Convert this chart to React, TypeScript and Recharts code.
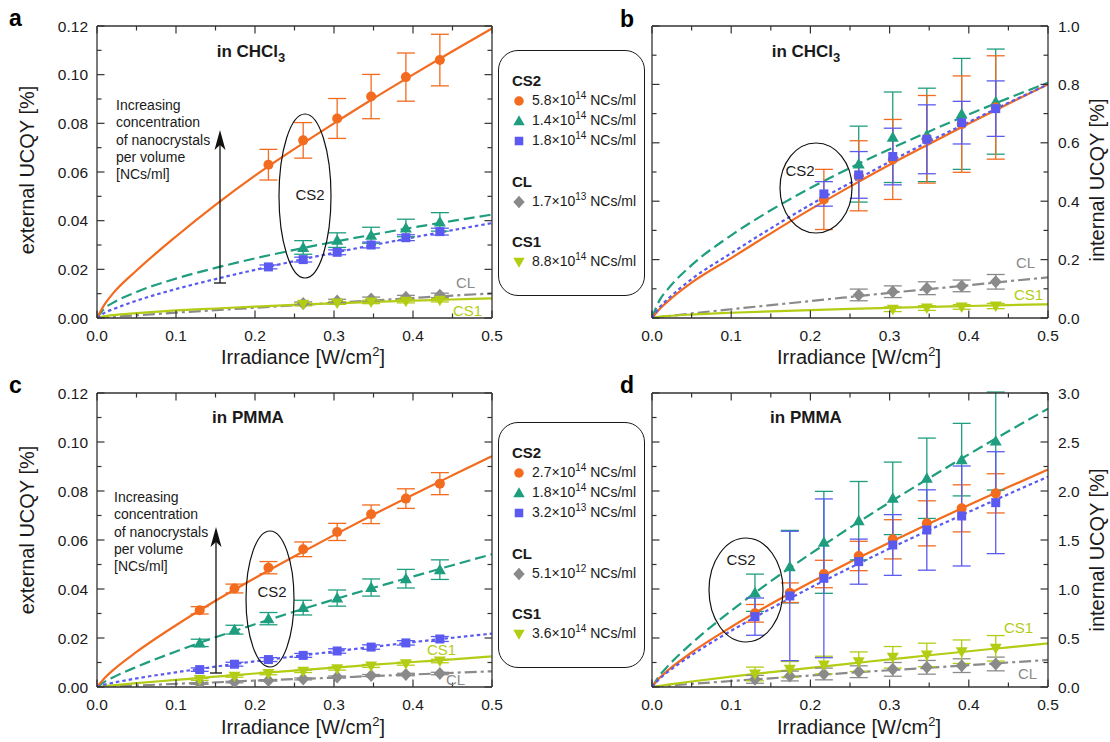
import React from "react";
import { ComposedChart, Line, Scatter, XAxis, YAxis, ErrorBar } from "recharts";

const FONT = "'Liberation Sans', Arial, Helvetica, sans-serif";
const AXIS = "#333333";
const INK = "#1a1a1a";

const ORANGE = "#F26B1F";
const GREEN = "#1F9E7F";
const BLUE = "#5A5AF0";
const GRAY = "#8A8A8A";
const LIME = "#B3CC14";

// irradiance of the measured points [W/cm2] and of the fit curves
const irradiance = [0.13, 0.174, 0.217, 0.261, 0.304, 0.347, 0.391, 0.434];
const fitX = [0, 0.01, 0.02, 0.05, 0.1, 0.15, 0.2, 0.25, 0.3, 0.35, 0.4, 0.45, 0.5];

const xMajor = [0, 0.1, 0.2, 0.3, 0.4, 0.5];
const xMinor = [0.05, 0.15, 0.25, 0.35, 0.45];
const extMajor = [0, 0.02, 0.04, 0.06, 0.08, 0.1, 0.12];
const extMinor = [0.01, 0.03, 0.05, 0.07, 0.09, 0.11];
const intBMajor = [0, 0.2, 0.4, 0.6, 0.8, 1.0];
const intBMinor = [0.1, 0.3, 0.5, 0.7, 0.9];
const intDMajor = [0, 0.5, 1.0, 1.5, 2.0, 2.5, 3.0];
const intDMinor = [0.25, 0.75, 1.25, 1.75, 2.25, 2.75];

// a: external UCQY in CHCl3
const aCs2aFit = [0, 0.0058, 0.01, 0.0195, 0.0335, 0.0465, 0.0585, 0.0695, 0.08, 0.0902, 0.1, 0.1096, 0.119];
const aCs2aY = [0.063, 0.073, 0.082, 0.091, 0.099, 0.106];
const aCs2aErr = [0.0063, 0.0073, 0.0082, 0.0091, 0.0099, 0.0106];
const aCs2bFit = [0, 0.0041, 0.0062, 0.0107, 0.0162, 0.0206, 0.0245, 0.028, 0.0313, 0.0343, 0.0372, 0.0399, 0.0425];
const aCs2bY = [0.029, 0.032, 0.034, 0.037, 0.0395];
const aCs2bErr = [0.0028, 0.003, 0.0033, 0.0036, 0.0038];
const aCs2cFit = [0, 0.0022, 0.0036, 0.0071, 0.0119, 0.016, 0.0198, 0.0234, 0.0268, 0.03, 0.0331, 0.0361, 0.039];
const aCs2cY = [0.021, 0.024, 0.027, 0.03, 0.033, 0.0355];
const aCs2cErr = [0.0008, 0.001, 0.001, 0.0012, 0.0012, 0.0014];
const aClFit = [0, 0.0002, 0.0005, 0.0011, 0.0022, 0.0032, 0.0042, 0.0052, 0.0062, 0.0072, 0.0082, 0.0092, 0.0101];
const aClY = [0.006, 0.007, 0.0078, 0.0085, 0.0093];
const aClErr = [0.0006, 0.0007, 0.0008, 0.0008, 0.0009];
const aCs1Fit = [0, 0.0008, 0.0012, 0.002, 0.0031, 0.0039, 0.0047, 0.0054, 0.006, 0.0066, 0.0071, 0.0076, 0.0081];
const aCs1Y = [0.0056, 0.0062, 0.0066, 0.0069, 0.0073];
const aCs1Err = [0.0006, 0.0006, 0.0007, 0.0007, 0.0007];

// b: internal UCQY in CHCl3
const bCs2aFit = [0, 0.032, 0.057, 0.121, 0.205, 0.29, 0.372, 0.45, 0.525, 0.596, 0.666, 0.734, 0.8];
const bCs2aY = [0.406, 0.487, 0.543, 0.612, 0.664, 0.721];
const bCs2aErr = [0.103, 0.12, 0.137, 0.15, 0.165, 0.177];
const bCs2bFit = [0, 0.063, 0.099, 0.181, 0.283, 0.369, 0.445, 0.514, 0.578, 0.639, 0.697, 0.753, 0.806];
const bCs2bY = [0.527, 0.619, 0.627, 0.699, 0.741];
const bCs2bErr = [0.13, 0.155, 0.16, 0.19, 0.18];
const bCs2cFit = [0, 0.038, 0.065, 0.133, 0.222, 0.307, 0.388, 0.462, 0.535, 0.605, 0.671, 0.737, 0.8];
const bCs2cY = [0.425, 0.49, 0.553, 0.612, 0.669, 0.717];
const bCs2cErr = [0.042, 0.08, 0.097, 0.118, 0.073, 0.095];
const bClFit = [0, 0.0034, 0.0065, 0.0156, 0.03, 0.044, 0.058, 0.072, 0.086, 0.099, 0.112, 0.126, 0.139];
const bClY = [0.079, 0.09, 0.102, 0.11, 0.124];
const bClErr = [0.02, 0.02, 0.022, 0.02, 0.025];
const bCs1Fit = [0, 0.0045, 0.0068, 0.0118, 0.0179, 0.0228, 0.0271, 0.031, 0.0346, 0.038, 0.0411, 0.0441, 0.047];
const bCs1Y = [0.03, 0.034, 0.038, 0.041];
const bCs1Err = [0.008, 0.008, 0.008, 0.009];

// c: external UCQY in PMMA
const cCs2aFit = [0, 0.0038, 0.0068, 0.0143, 0.0252, 0.0352, 0.0445, 0.0534, 0.062, 0.0704, 0.0785, 0.0864, 0.0942];
const cCs2aY = [0.0313, 0.0402, 0.0487, 0.0562, 0.0633, 0.0705, 0.0769, 0.083];
const cCs2aErr = [0.0015, 0.0018, 0.0025, 0.003, 0.0035, 0.0038, 0.004, 0.0045];
const cCs2bFit = [0, 0.0022, 0.0039, 0.0082, 0.0145, 0.0203, 0.0256, 0.0308, 0.0357, 0.0405, 0.0451, 0.0497, 0.0542];
const cCs2bY = [0.018, 0.0234, 0.0279, 0.0324, 0.0363, 0.0406, 0.0442, 0.0479];
const cCs2bErr = [0.0015, 0.0018, 0.0025, 0.003, 0.0033, 0.0035, 0.0038, 0.004];
const cCs2cFit = [0, 0.001, 0.0017, 0.0035, 0.006, 0.0083, 0.0105, 0.0125, 0.0145, 0.0164, 0.0183, 0.0201, 0.0218];
const cCs2cY = [0.0071, 0.0093, 0.0112, 0.0129, 0.0147, 0.0163, 0.018, 0.0196];
const cCs2cErr = [0.0007, 0.0008, 0.0008, 0.0008, 0.0009, 0.0009, 0.0009, 0.001];
const cClFit = [0, 0.0001, 0.0003, 0.0006, 0.0013, 0.0019, 0.0026, 0.0032, 0.0038, 0.0045, 0.0051, 0.0058, 0.0064];
const cClY = [0.0014, 0.002, 0.0027, 0.0033, 0.0041, 0.0047, 0.0051, 0.0055];
const cClErr = [0.0003, 0.0003, 0.0003, 0.0004, 0.0004, 0.0004, 0.0005, 0.0005];
const cCs1Fit = [0, 0.0004, 0.0007, 0.0016, 0.0029, 0.0042, 0.0055, 0.0067, 0.0079, 0.0091, 0.0102, 0.0113, 0.0125];
const cCs1Y = [0.0031, 0.0044, 0.0055, 0.0064, 0.0075, 0.0086, 0.0095, 0.0106];
const cCs1Err = [0.0004, 0.0004, 0.0005, 0.0005, 0.0006, 0.0006, 0.0006, 0.0007];

// d: internal UCQY in PMMA
const dCs2aFit = [0, 0.097, 0.169, 0.352, 0.612, 0.847, 1.066, 1.275, 1.475, 1.669, 1.857, 2.04, 2.22];
const dCs2aY = [0.752, 0.962, 1.153, 1.337, 1.507, 1.67, 1.823, 1.976];
const dCs2aErr = [0.09, 0.1, 0.14, 0.15, 0.2, 0.23, 0.24, 0.2];
const dCs2bFit = [0, 0.122, 0.213, 0.445, 0.778, 1.079, 1.358, 1.627, 1.884, 2.132, 2.374, 2.61, 2.84];
const dCs2bY = [0.962, 1.228, 1.476, 1.697, 1.925, 2.13, 2.32, 2.51];
const dCs2bErr = [0.19, 0.37, 0.52, 0.4, 0.37, 0.41, 0.37, 0.5];
const dCs2cFit = [0, 0.087, 0.153, 0.325, 0.574, 0.8, 1.013, 1.216, 1.413, 1.602, 1.787, 1.968, 2.146];
const dCs2cY = [0.718, 0.929, 1.109, 1.279, 1.449, 1.602, 1.745, 1.881];
const dCs2cErr = [0.19, 0.66, 0.81, 0.23, 0.31, 0.41, 0.51, 0.52];
const dClFit = [0, 0.007, 0.013, 0.032, 0.061, 0.089, 0.117, 0.145, 0.171, 0.197, 0.223, 0.25, 0.276];
const dClY = [0.078, 0.112, 0.133, 0.156, 0.18, 0.201, 0.218, 0.235];
const dClErr = [0.04, 0.05, 0.06, 0.06, 0.07, 0.07, 0.07, 0.07];
const dCs1Fit = [0, 0.013, 0.024, 0.056, 0.105, 0.151, 0.196, 0.239, 0.281, 0.324, 0.365, 0.405, 0.446];
const dCs1Y = [0.133, 0.18, 0.224, 0.258, 0.303, 0.327, 0.36, 0.395];
const dCs1Err = [0.07, 0.08, 0.09, 0.1, 0.11, 0.12, 0.12, 0.13];

// legend concentrations [mantissa, exponent]
const legendAB = [["5.8", "14"], ["1.4", "14"], ["1.8", "14"], ["1.7", "13"], ["8.8", "14"]];
const legendCD = [["2.7", "14"], ["1.8", "14"], ["3.2", "13"], ["5.1", "12"], ["3.6", "14"]];

type Marker = "circle" | "up" | "down" | "square" | "diamond";
interface Series {
  color: string;
  dash?: string;
  marker: Marker;
  fit: number[];
  y: number[];
  err: number[];
  from: number;
}

const mk = (color: string, dash: string | undefined, marker: Marker, fit: number[], y: number[], err: number[], from: number): Series => ({
  color, dash, marker, fit, y, err, from,
});

const DASH_GREEN = "11 5";
const DASH_BLUE = "3.5 3";
const DASH_GRAY = "12 4 3 4";

const seriesA = [
  mk(GRAY, DASH_GRAY, "diamond", aClFit, aClY, aClErr, 3),
  mk(LIME, undefined, "down", aCs1Fit, aCs1Y, aCs1Err, 3),
  mk(GREEN, DASH_GREEN, "up", aCs2bFit, aCs2bY, aCs2bErr, 3),
  mk(ORANGE, undefined, "circle", aCs2aFit, aCs2aY, aCs2aErr, 2),
  mk(BLUE, DASH_BLUE, "square", aCs2cFit, aCs2cY, aCs2cErr, 2),
];
const seriesB = [
  mk(GRAY, DASH_GRAY, "diamond", bClFit, bClY, bClErr, 3),
  mk(LIME, undefined, "down", bCs1Fit, bCs1Y, bCs1Err, 4),
  mk(GREEN, DASH_GREEN, "up", bCs2bFit, bCs2bY, bCs2bErr, 3),
  mk(ORANGE, undefined, "circle", bCs2aFit, bCs2aY, bCs2aErr, 2),
  mk(BLUE, DASH_BLUE, "square", bCs2cFit, bCs2cY, bCs2cErr, 2),
];
const seriesC = [
  mk(GRAY, DASH_GRAY, "diamond", cClFit, cClY, cClErr, 0),
  mk(LIME, undefined, "down", cCs1Fit, cCs1Y, cCs1Err, 0),
  mk(GREEN, DASH_GREEN, "up", cCs2bFit, cCs2bY, cCs2bErr, 0),
  mk(ORANGE, undefined, "circle", cCs2aFit, cCs2aY, cCs2aErr, 0),
  mk(BLUE, DASH_BLUE, "square", cCs2cFit, cCs2cY, cCs2cErr, 0),
];
const seriesD = [
  mk(GRAY, DASH_GRAY, "diamond", dClFit, dClY, dClErr, 0),
  mk(LIME, undefined, "down", dCs1Fit, dCs1Y, dCs1Err, 0),
  mk(GREEN, DASH_GREEN, "up", dCs2bFit, dCs2bY, dCs2bErr, 0),
  mk(ORANGE, undefined, "circle", dCs2aFit, dCs2aY, dCs2aErr, 0),
  mk(BLUE, DASH_BLUE, "square", dCs2cFit, dCs2cY, dCs2cErr, 0),
];

function markerSvg(kind: Marker, cx: number, cy: number, color: string, s = 1) {
  switch (kind) {
    case "circle":
      return <circle cx={cx} cy={cy} r={5 * s} fill={color} />;
    case "up":
      return <polygon points={`${cx},${cy - 6 * s} ${cx + 6 * s},${cy + 4.5 * s} ${cx - 6 * s},${cy + 4.5 * s}`} fill={color} />;
    case "down":
      return <polygon points={`${cx},${cy + 6 * s} ${cx + 6 * s},${cy - 4.5 * s} ${cx - 6 * s},${cy - 4.5 * s}`} fill={color} />;
    case "square":
      return <rect x={cx - 4.5 * s} y={cy - 4.5 * s} width={9 * s} height={9 * s} fill={color} />;
    default:
      return <polygon points={`${cx},${cy - 6.5 * s} ${cx + 6 * s},${cy} ${cx},${cy + 6.5 * s} ${cx - 6 * s},${cy}`} fill={color} />;
  }
}

const near = (list: number[], v: number) => list.some((m) => Math.abs(m - v) < 1e-9);

function makeTick(side: "bottom" | "top" | "left" | "right", major: number[], digits: number, showLabel: boolean) {
  return (props: any) => {
    const { x, y, payload } = props;
    const v = payload.value as number;
    const isMajor = near(major, v);
    const len = isMajor ? 7.5 : 4.5;
    let line;
    let label = null;
    if (side === "bottom") {
      line = <line x1={x} x2={x} y1={y} y2={y - len} stroke={AXIS} strokeWidth={1.2} />;
      if (showLabel && isMajor)
        label = <text x={x} y={y + 23} textAnchor="middle" fontSize={15.5} fill={INK} fontFamily={FONT}>{v.toFixed(digits)}</text>;
    } else if (side === "top") {
      line = <line x1={x} x2={x} y1={y} y2={y + len} stroke={AXIS} strokeWidth={1.2} />;
    } else if (side === "left") {
      line = <line x1={x} x2={x + len} y1={y} y2={y} stroke={AXIS} strokeWidth={1.2} />;
      if (showLabel && isMajor)
        label = <text x={x - 9} y={y + 5.5} textAnchor="end" fontSize={15.5} fill={INK} fontFamily={FONT}>{v.toFixed(digits)}</text>;
    } else {
      line = <line x1={x} x2={x - len} y1={y} y2={y} stroke={AXIS} strokeWidth={1.2} />;
      if (showLabel && isMajor)
        label = <text x={x + 10} y={y + 5.5} textAnchor="start" fontSize={15.5} fill={INK} fontFamily={FONT}>{v.toFixed(digits)}</text>;
    }
    return (
      <g>
        {line}
        {label}
      </g>
    );
  };
}

interface PanelProps {
  left: number;
  top: number;
  width: number;
  height: number;
  margin: { top: number; right: number; bottom: number; left: number };
  yMax: number;
  yMajor: number[];
  yMinor: number[];
  yDigits: number;
  labelSide: "left" | "right";
  series: Series[];
}

// axes are 1px thick so that they are drawn; margins are reduced by 1 to compensate
function Panel({ left, top, width, height, margin, yMax, yMajor, yMinor, yDigits, labelSide, series }: PanelProps) {
  const xTicks = [...xMajor, ...xMinor].sort((p, q) => p - q);
  const yTicks = [...yMajor, ...yMinor].sort((p, q) => p - q);
  const axisLine = { stroke: AXIS, strokeWidth: 1.3 };
  const m = { top: margin.top - 1, bottom: margin.bottom - 1, left: margin.left - 1, right: margin.right - 1 };
  return (
    <div style={{ position: "absolute", left, top }}>
      <ComposedChart width={width} height={height} margin={m}>
        <XAxis xAxisId="b" dataKey="x" type="number" domain={[0, 0.5]} allowDataOverflow ticks={xTicks} interval={0}
          height={1} tickSize={0} tickMargin={0} tickLine={false} axisLine={axisLine} tick={makeTick("bottom", xMajor, 1, true)} />
        <XAxis xAxisId="t" orientation="top" dataKey="x" type="number" domain={[0, 0.5]} allowDataOverflow ticks={xTicks} interval={0}
          height={1} tickSize={0} tickMargin={0} tickLine={false} axisLine={axisLine} tick={makeTick("top", xMajor, 1, false)} />
        <YAxis yAxisId="l" orientation="left" dataKey="y" type="number" domain={[0, yMax]} allowDataOverflow ticks={yTicks} interval={0}
          width={1} tickSize={0} tickMargin={0} tickLine={false} axisLine={axisLine} tick={makeTick("left", yMajor, yDigits, labelSide === "left")} />
        <YAxis yAxisId="r" orientation="right" dataKey="y" type="number" domain={[0, yMax]} allowDataOverflow ticks={yTicks} interval={0}
          width={1} tickSize={0} tickMargin={0} tickLine={false} axisLine={axisLine} tick={makeTick("right", yMajor, yDigits, labelSide === "right")} />
        {series.map((s, i) => (
          <Line key={`fit-${i}`} xAxisId="b" yAxisId="l" type="monotone" data={fitX.map((x, k) => ({ x, y: s.fit[k] }))}
            dataKey="y" stroke={s.color} strokeWidth={2.2} strokeDasharray={s.dash} dot={false} activeDot={false}
            isAnimationActive={false} />
        ))}
        {series.map((s, i) => (
          <Scatter key={`pts-${i}`} xAxisId="b" yAxisId="l" dataKey="y" isAnimationActive={false}
            data={irradiance.slice(s.from).map((x, k) => ({ x, y: s.y[k], e: s.err[k] }))}
            fill={s.color}
            shape={(p: any) => (p.cx == null ? <g /> : markerSvg(s.marker, p.cx, p.cy, s.color))}>
            <ErrorBar dataKey="e" direction="y" width={9} stroke={s.color} strokeWidth={1.3} />
          </Scatter>
        ))}
      </ComposedChart>
    </div>
  );
}

function Conc({ m, e }: { m: string; e: string }) {
  return (
    <span>
      {m}×10<span style={{ fontSize: 10, position: "relative", top: -6 }}>{e}</span> NCs/ml
    </span>
  );
}

function LegendItem({ kind, color, conc }: { kind: Marker; color: string; conc: string[] }) {
  return (
    <div style={{ display: "flex", alignItems: "center", height: 20 }}>
      <svg width={14} height={14} style={{ marginRight: 6 }}>
        {markerSvg(kind, 7, 7, color, 0.95)}
      </svg>
      <Conc m={conc[0]} e={conc[1]} />
    </div>
  );
}

function LegendBox({ top, conc }: { top: number; conc: string[][] }) {
  const head: React.CSSProperties = { fontWeight: "bold", fontSize: 15, height: 20, lineHeight: "20px" };
  return (
    <div style={{
      position: "absolute", left: 498, top, width: 147, height: 246, boxSizing: "border-box",
      border: "1.5px solid #1a1a1a", borderRadius: 20, padding: "20px 0 0 13px", background: "#fff",
      fontFamily: FONT, fontSize: 14, color: INK, lineHeight: "20px",
    }}>
      <div style={head}>CS2</div>
      <LegendItem kind="circle" color={ORANGE} conc={conc[0]} />
      <LegendItem kind="up" color={GREEN} conc={conc[1]} />
      <LegendItem kind="square" color={BLUE} conc={conc[2]} />
      <div style={{ ...head, marginTop: 21 }}>CL</div>
      <LegendItem kind="diamond" color={GRAY} conc={conc[3]} />
      <div style={{ ...head, marginTop: 20 }}>CS1</div>
      <LegendItem kind="down" color={LIME} conc={conc[4]} />
    </div>
  );
}

function Arrow({ x, y0, y1 }: { x: number; y0: number; y1: number }) {
  return (
    <g>
      <line x1={x - 6} x2={x + 6} y1={y0} y2={y0} stroke="#111" strokeWidth={1.3} />
      <line x1={x} x2={x} y1={y0} y2={y1 + 14} stroke="#111" strokeWidth={1.3} />
      <polygon points={`${x},${y1} ${x + 5.5},${y1 + 20} ${x},${y1 + 15} ${x - 5.5},${y1 + 20}`} fill="#111" />
    </g>
  );
}

function Increasing({ x, y }: { x: number; y: number }) {
  const lines = ["Increasing", "concentration", "of nanocrystals", "per volume", "[NCs/ml]"];
  return (
    <text x={x} y={y} fontSize={14} fill={INK} fontFamily={FONT}>
      {lines.map((l, i) => (
        <tspan key={i} x={x} dy={i === 0 ? 0 : 17.3}>{l}</tspan>
      ))}
    </text>
  );
}

function XTitle({ x, y }: { x: number; y: number }) {
  return (
    <text x={x} y={y} textAnchor="middle" fontSize={20} fill={INK} fontFamily={FONT}>
      Irradiance [W/cm<tspan dy={-8} fontSize={13}>2</tspan><tspan dy={8}>]</tspan>
    </text>
  );
}

function YTitle({ x, y, text }: { x: number; y: number; text: string }) {
  return (
    <text x={x} y={y} transform={`rotate(-90 ${x} ${y})`} textAnchor="middle" fontSize={20} fill={INK} fontFamily={FONT}>
      {text}
    </text>
  );
}

function Medium({ x, y, chcl3 }: { x: number; y: number; chcl3: boolean }) {
  return (
    <text x={x} y={y} textAnchor="middle" fontSize={17} fontWeight="bold" fill={INK} fontFamily={FONT}>
      {chcl3 ? (
        <>in CHCl<tspan dy={5} fontSize={13}>3</tspan></>
      ) : (
        "in PMMA"
      )}
    </text>
  );
}

function Overlay() {
  const lbl = (x: number, y: number, t: string, c: string) => (
    <text x={x} y={y} fontSize={15} fill={c} fontFamily={FONT}>{t}</text>
  );
  return (
    <svg width={1110} height={742} style={{ position: "absolute", left: 0, top: 0, pointerEvents: "none" }}>
      <g fontFamily={FONT} fontWeight="bold" fontSize={23} fill="#000">
        <text x={9} y={26}>a</text>
        <text x={620} y={27}>b</text>
        <text x={9} y={393}>c</text>
        <text x={620} y={393}>d</text>
      </g>
      <Medium x={251} y={57} chcl3 />
      <Medium x={806} y={57} chcl3 />
      <Medium x={248} y={423} chcl3={false} />
      <Medium x={806} y={423} chcl3={false} />

      <XTitle x={303} y={364} />
      <XTitle x={859} y={364} />
      <XTitle x={303} y={734} />
      <XTitle x={859} y={734} />
      <YTitle x={34} y={170} text="external UCQY [%]" />
      <YTitle x={34} y={530} text="external UCQY [%]" />
      <YTitle x={1104} y={180} text="internal UCQY [%]" />
      <YTitle x={1104} y={550} text="internal UCQY [%]" />

      <Increasing x={116} y={110} />
      <Increasing x={114} y={502} />
      <Arrow x={220} y0={283} y1={130} />
      <Arrow x={216} y0={673} y1={527} />

      <g fill="none" stroke="#111" strokeWidth={1.2}>
        <ellipse cx={305} cy={196} rx={26} ry={82} />
        <ellipse cx={816} cy={188} rx={36} ry={45} />
        <ellipse cx={270} cy={599} rx={24} ry={68} />
        <ellipse cx={746} cy={590} rx={37} ry={52} />
      </g>
      <g fontFamily={FONT} fontSize={15} fill={INK} textAnchor="middle">
        <text x={310} y={200}>CS2</text>
        <text x={800} y={176}>CS2</text>
        <text x={272} y={597}>CS2</text>
        <text x={741} y={565}>CS2</text>
      </g>

      {lbl(456, 288, "CL", GRAY)}
      {lbl(453, 316, "CS1", LIME)}
      {lbl(1016, 268, "CL", GRAY)}
      {lbl(1014, 300, "CS1", LIME)}
      {lbl(427, 655, "CS1", LIME)}
      {lbl(446, 685, "CL", GRAY)}
      {lbl(1004, 633, "CS1", LIME)}
      {lbl(1018, 679, "CL", GRAY)}
    </svg>
  );
}

export default function App() {
  return (
    <div style={{ position: "absolute", left: 0, top: 0, width: 1110, height: 742, background: "#fff", fontFamily: FONT }}>
      <Panel left={0} top={0} width={520} height={372} margin={{ top: 26, left: 97, right: 28, bottom: 54 }}
        yMax={0.12} yMajor={extMajor} yMinor={extMinor} yDigits={2} labelSide="left" series={seriesA} />
      <Panel left={600} top={0} width={510} height={372} margin={{ top: 26, left: 52, right: 62, bottom: 54 }}
        yMax={1.0} yMajor={intBMajor} yMinor={intBMinor} yDigits={1} labelSide="right" series={seriesB} />
      <Panel left={0} top={370} width={520} height={372} margin={{ top: 23, left: 97, right: 28, bottom: 55 }}
        yMax={0.12} yMajor={extMajor} yMinor={extMinor} yDigits={2} labelSide="left" series={seriesC} />
      <Panel left={600} top={370} width={510} height={372} margin={{ top: 23, left: 52, right: 62, bottom: 55 }}
        yMax={3.0} yMajor={intDMajor} yMinor={intDMinor} yDigits={1} labelSide="right" series={seriesD} />
      <LegendBox top={50} conc={legendAB} />
      <LegendBox top={422} conc={legendCD} />
      <Overlay />
    </div>
  );
}
